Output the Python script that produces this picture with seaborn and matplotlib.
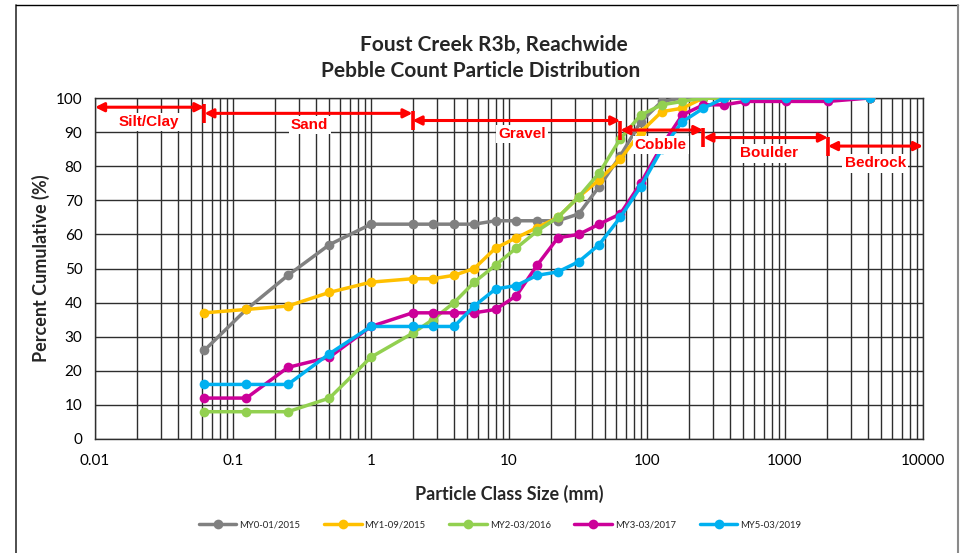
import numpy as np
import pandas as pd
import matplotlib
matplotlib.use("Agg")
import matplotlib.pyplot as plt
from matplotlib.lines import Line2D
import seaborn as sns

# ---------------- data ----------------
sizes = [0.062, 0.125, 0.25, 0.5, 1, 2, 2.8, 4, 5.6, 8, 11.3, 16, 22.6, 32, 45,
         64, 90, 128, 180, 256, 362, 512, 1024, 2048, 4096]
series_names = ["MY0-01/2015", "MY1-09/2015", "MY2-03/2016", "MY3-03/2017", "MY5-03/2019"]
my0 = [26, 38, 48, 57, 63, 63, 63, 63, 63, 64, 64, 64, 64, 66, 74, 83, 93, 99, 100, 100, 100, 100, 100, 100, 100]
my1 = [37, 38, 39, 43, 46, 47, 47, 48, 50, 56, 59, 62, 65, 71, 76, 82, 90, 96, 97, 100, 100, 100, 100, 100, 100]
my2 = [8, 8, 8, 12, 24, 31, 35, 40, 46, 51, 56, 61, 65, 71, 78, 88, 95, 98, 99, 100, 100, 100, 100, 100, 100]
my3 = [12, 12, 21, 24, 33, 37, 37, 37, 37, 38, 42, 51, 59, 60, 63, 66, 75, 86, 95, 98, 98, 99, 99, 99, 100]
my5 = [16, 16, 16, 25, 33, 33, 33, 33, 39, 44, 45, 48, 49, 52, 57, 65, 74, 85, 93, 97, 100, 100, 100, 100, 100]
series_values = [my0, my1, my2, my3, my5]
colors = ["#808080", "#FFC000", "#92D050", "#CC0099", "#00B0F0"]

x_ticks = [0.01, 0.1, 1, 10, 100, 1000, 10000]
x_tick_labels = ["0.01", "0.1", "1", "10", "100", "1000", "10000"]
y_ticks = list(range(0, 101, 10))

# size classes: (label, start, end, arrow y, label x, label y)
classes = [
    ("Silt/Clay", 0.01, 0.062, 97.3, 0.0245, 93.0),
    ("Sand", 0.062, 2, 95.5, 0.36, 92.1),
    ("Gravel", 2, 64, 93.4, 12.5, 89.4),
    ("Cobble", 64, 256, 90.6, 126, 86.2),
    ("Boulder", 256, 2048, 88.4, 770, 83.8),
    ("Bedrock", 2048, 10000, 85.9, 4500, 80.8),
]

# ---------------- figure ----------------
sns.set_style("white")
plt.rcParams["font.family"] = ["Lato", "DejaVu Sans"]

W, H = 970, 553
fig = plt.figure(figsize=(W / 100, H / 100), dpi=100)
ax = fig.add_axes([95 / W, (H - 439) / H, 828 / W, 341 / H])

df = pd.DataFrame({
    "size": np.tile(sizes, len(series_names)),
    "pct": np.concatenate(series_values),
    "series": np.repeat(series_names, len(sizes)),
})
palette = dict(zip(series_names, colors))

# grid
grid_c = "#2e2e2e"
for dec in range(-2, 4):
    for m in range(1, 10):
        v = m * 10.0 ** dec
        ax.axvline(v, color=grid_c, lw=1.0, zorder=0)
ax.axvline(10000, color=grid_c, lw=1.0, zorder=0)
for yv in y_ticks:
    ax.axhline(yv, color=grid_c, lw=1.0, zorder=0)

sns.lineplot(data=df, x="size", y="pct", hue="series", palette=palette,
             marker="o", markersize=7, markeredgewidth=0, linewidth=2.5,
             estimator=None, sort=True, legend=False, ax=ax, zorder=3)

ax.set_xscale("log")
ax.set_xlim(0.01, 10000)
ax.set_ylim(0, 100)
ax.set_xticks(x_ticks)
ax.set_xticklabels(x_tick_labels)
ax.xaxis.set_minor_locator(matplotlib.ticker.NullLocator())
ax.set_yticks(y_ticks)
ax.tick_params(axis="both", which="major", direction="out", length=5, width=1,
               color=grid_c, labelsize=11, colors="black", pad=4)
ax.tick_params(axis="x", pad=6)
for s in ax.spines.values():
    s.set_color(grid_c)
    s.set_linewidth(1.0)

ax.set_xlabel("Particle Class Size (mm)", fontsize=13, fontweight="bold", labelpad=12)
ax.set_ylabel("Percent Cumulative (%)", fontsize=13, fontweight="bold", labelpad=4)

# class annotations
red = "#FF0000"
for i, (lab, x0, x1, ya, xl, yl) in enumerate(classes):
    ax.annotate("", xy=(x1, ya), xytext=(x0, ya),
                arrowprops=dict(arrowstyle="<|-|>", color=red, lw=2.2,
                                mutation_scale=13, shrinkA=0, shrinkB=0),
                annotation_clip=False, zorder=5)
    if i > 0:
        ax.plot([x0, x0], [ya - 2.8, ya + 2.8], color=red, lw=2.6, zorder=5,
                solid_capstyle="butt", clip_on=False)
    ax.text(xl, yl, lab, color=red, fontsize=11, fontweight="bold",
            fontfamily=["Liberation Sans", "DejaVu Sans"],
            ha="center", va="center", zorder=6,
            bbox=dict(boxstyle="square,pad=0.15", fc="white", ec="none"))

# titles
fig.text(494 / W, 1 - 45 / H, "Foust Creek R3b, Reachwide", ha="center", va="center",
         fontsize=15, fontweight="bold")
fig.text(481 / W, 1 - 71 / H, "Pebble Count Particle Distribution", ha="center", va="center",
         fontsize=15, fontweight="bold")

# legend
handles = [Line2D([0], [0], color=c, lw=2.5, marker="o", markersize=7,
                  markeredgewidth=0) for c in colors]
fig.legend(handles, series_names, loc="center", bbox_to_anchor=(500 / W, 1 - 525 / H),
           ncol=5, frameon=False, fontsize=6.8, handlelength=4.0,
           handletextpad=0.3, columnspacing=2.5)

# chart border
border_c = "#404040"
fig.add_artist(Line2D([16 / W, 16 / W], [0, 1 - 5 / H], color=border_c, lw=1.3))
fig.add_artist(Line2D([16 / W, 958 / W], [1 - 5 / H, 1 - 5 / H], color="black", lw=1.0))
fig.add_artist(Line2D([958 / W, 958 / W], [0, 1 - 5 / H], color="#8a8a8a", lw=1.5))

fig.savefig("out.png", dpi=100)
